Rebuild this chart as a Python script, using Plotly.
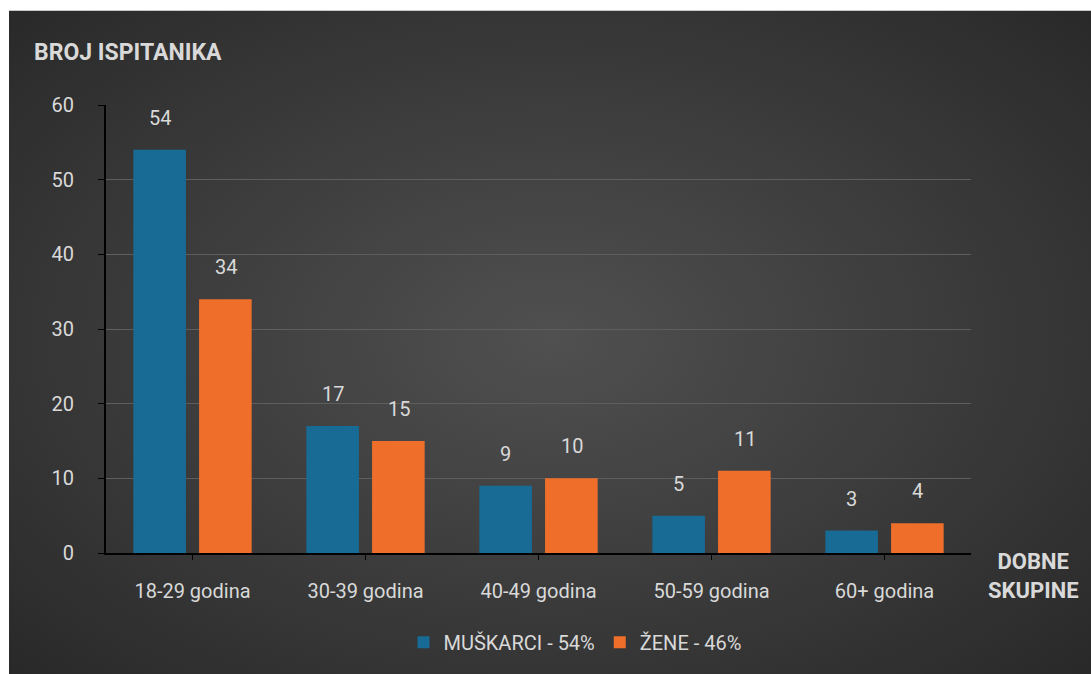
import base64
import plotly.graph_objects as go

# podaci
dobne_skupine = ["18-29 godina", "30-39 godina", "40-49 godina", "50-59 godina", "60+ godina"]
muskarci = [54, 17, 9, 5, 3]
zene = [34, 15, 10, 11, 4]
naziv_m = "MUŠKARCI - 54%"
naziv_z = "ŽENE - 46%"
y_ticks = [0, 10, 20, 30, 40, 50, 60]

plava = "#176b94"
narancasta = "#ef6f2a"
svijetlo = "#d9d9d9"
font = "Roboto"

# pozadina s radijalnim gradijentom
svg = """<svg xmlns='http://www.w3.org/2000/svg' width='1082' height='700' preserveAspectRatio='none'>
<defs><radialGradient id='g' cx='50%' cy='48%' r='75%'>
<stop offset='0%' stop-color='#505050'/><stop offset='100%' stop-color='#262626'/>
</radialGradient></defs><rect width='1082' height='700' fill='url(#g)'/></svg>"""
bg_src = "data:image/svg+xml;base64," + base64.b64encode(svg.encode()).decode()

L, R, T, B = 106, 120, 105, 117
W, H = 1091 - L - R, 674 - T - B

fig = go.Figure()
oznake = []
for naziv, vrijednosti, boja, pomak in [(naziv_m, muskarci, plava, -33), (naziv_z, zene, narancasta, 33)]:
    fig.add_trace(go.Bar(x=dobne_skupine, y=vrijednosti, name=naziv, marker_color=boja,
                         marker_line_width=0))
    for kat, v in zip(dobne_skupine, vrijednosti):
        oznake.append(dict(x=kat, y=v, text=str(v), xshift=pomak, yshift=32,
                           showarrow=False, yanchor="middle",
                           font=dict(size=20, color=svijetlo)))

fig.update_layout(
    width=1091, height=674,
    margin=dict(l=L, r=R, t=T, b=B),
    paper_bgcolor="#262626",
    plot_bgcolor="rgba(0,0,0,0)",
    font=dict(family=font, color=svijetlo, size=20),
    barmode="group", bargap=0.24, bargroupgap=0.2,
    showlegend=True,
    legend=dict(orientation="h", x=(575 - L) / W, xanchor="center", y=(557 - 647) / H,
                yanchor="middle", font=dict(size=20, color=svijetlo),
                bgcolor="rgba(0,0,0,0)", itemwidth=30, traceorder="normal"),
    images=[dict(source=bg_src, xref="paper", yref="paper",
                 x=(9 - L) / W, y=(T - 10) / H + 1, sizex=(1091 - 9) / W, sizey=(700 - 10) / H,
                 xanchor="left", yanchor="top", sizing="stretch", layer="below")],
    shapes=[
        dict(type="rect", xref="paper", yref="paper", x0=-L / W, x1=1 + R / W,
             y0=(T - 10) / H + 1, y1=1 + T / H + 0.05, fillcolor="white", line_width=0,
             layer="above"),
        dict(type="rect", xref="paper", yref="paper", x0=-L / W - 0.05, x1=(9 - L) / W,
             y0=-B / H - 0.1, y1=1 + T / H + 0.05, fillcolor="white", line_width=0,
             layer="above"),
    ],
    annotations=oznake + [
        dict(text="<b>BROJ ISPITANIKA</b>", xref="paper", yref="paper",
             x=(32 - L) / W, y=(557 - 52) / H, xanchor="left", yanchor="middle",
             showarrow=False, font=dict(size=23, color=svijetlo)),
        dict(text="<b>DOBNE<br>SKUPINE</b>", xref="paper", yref="paper",
             x=(1033 - L) / W, y=(557 - 580) / H, xanchor="center", yanchor="middle",
             showarrow=False, font=dict(size=22, color=svijetlo)),
    ],
)
fig.update_yaxes(range=[0, 60], tickvals=y_ticks, showgrid=True, gridcolor="#5e5e5e",
                 gridwidth=1, showline=True, linecolor="black", linewidth=2,
                 ticks="outside", ticklen=6, tickcolor="black", ticklabelstandoff=20,
                 zeroline=False, tickfont=dict(size=20, color=svijetlo))
fig.update_xaxes(showline=True, linecolor="black", linewidth=2, ticks="outside",
                 ticklen=5, tickcolor="black", tickson="labels", ticklabelstandoff=14,
                 tickfont=dict(size=20, color=svijetlo))

fig.write_html("out.html", config={"displayModeBar": False},
               post_script="document.body.style.margin='0';"
                           "document.body.style.background='#262626';")
